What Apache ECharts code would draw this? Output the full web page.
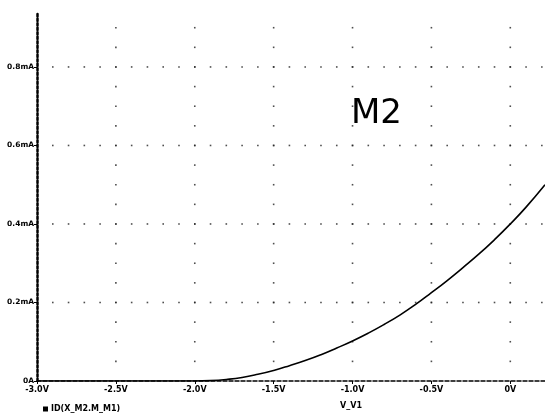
<!DOCTYPE html>
<html><head><meta charset="utf-8">
<script src="https://cdn.jsdelivr.net/npm/echarts@6/dist/echarts.min.js"></script>
<style>html,body{margin:0;padding:0;background:#fff}#c{width:545px;height:416px}</style>
</head><body><div id="c"></div>
<script>
// Data (V_V1 in volts, drain current in mA)
const voltages = [-3.0,-2.8,-2.6,-2.4,-2.2,-2.0,-1.9,-1.8,-1.7,-1.6,-1.5,-1.4,-1.3,-1.2,-1.1,-1.0,-0.9,-0.8,-0.7,-0.6,-0.5,-0.4,-0.3,-0.2,-0.1,0.0,0.1,0.22];
const currents = [0,0,0,0,0,0,0.001,0.004,0.009,0.017,0.027,0.039,0.052,0.067,0.084,0.102,0.122,0.144,0.168,0.195,0.225,0.256,0.289,0.323,0.360,0.400,0.443,0.500];
const xTicks = [-3.0,-2.5,-2.0,-1.5,-1.0,-0.5,0];
const xTickLabels = ['-3.0V','-2.5V','-2.0V','-1.5V','-1.0V','-0.5V','0V'];
const yTicks = [0,0.2,0.4,0.6,0.8];
const yTickLabels = ['0A','0.2mA','0.4mA','0.6mA','0.8mA'];
const seriesName = 'ID(X_M2.M_M1)';
const xName = 'V_V1';
const titleText = 'M2';

const xMin = -3.0, xMax = 0.22, yMin = 0, yMax = 0.94;

// dotted grid: dots along major lines at minor steps
const gridDots = [];
for (const xv of xTicks.slice(1)) {
  for (let k = 1; k * 0.05 <= yMax; k++) gridDots.push([xv, +(k * 0.05).toFixed(3)]);
}
for (const yv of yTicks.slice(1)) {
  for (let k = 1; -3.0 + k * 0.1 <= xMax; k++) gridDots.push([+(-3.0 + k * 0.1).toFixed(2), yv]);
}

const lbl = v => {
  const i = xTicks.findIndex(t => Math.abs(t - v) < 1e-6);
  return i >= 0 ? xTickLabels[i] : '';
};
const ylbl = v => {
  const i = yTicks.findIndex(t => Math.abs(t - v) < 1e-6);
  return i >= 0 ? yTickLabels[i] : '';
};

const font = '"DejaVu Sans", sans-serif';
const chart = echarts.init(document.getElementById('c'));
chart.setOption({
  animation: false,
  backgroundColor: '#fff',
  title: {
    text: titleText, left: 346, top: 92,
    textStyle: { fontFamily: '"DejaVu Sans", sans-serif', fontSize: 34, fontWeight: 'normal', color: '#000' }
  },
  grid: { left: 37, right: 0, top: 12, bottom: 35 },
  legend: {
    data: [{ name: seriesName, icon: 'rect' }],
    left: 38, top: 400, itemWidth: 5, itemHeight: 5, itemGap: 4,
    textStyle: { fontFamily: font, fontSize: 8, fontWeight: 'bold', color: '#000', padding: [0,0,0,-2] }
  },
  graphic: [{
    type: 'text', left: 340, top: 402,
    style: { text: xName, font: 'bold 8px ' + font, fill: '#000' }
  }],
  xAxis: {
    type: 'value', min: xMin, max: xMax, interval: 0.5,
    axisLine: { show: true, onZero: false, lineStyle: { color: '#000', width: 1.5, type: [4, 2] } },
    axisTick: { show: true, length: 3, inside: false, lineStyle: { color: '#000' } },
    axisLabel: { formatter: lbl, margin: 5, fontFamily: font, fontSize: 8, fontWeight: 'bold', color: '#000', showMaxLabel: false },
    splitLine: { show: false }
  },
  yAxis: {
    type: 'value', min: yMin, max: yMax, interval: 0.2,
    axisLine: { show: true, onZero: false, lineStyle: { color: '#000', width: 2.5, type: [2.5, 2] } },
    axisTick: { show: true, length: 3, lineStyle: { color: '#000' } },
    axisLabel: { formatter: ylbl, margin: 3, fontFamily: font, fontSize: 7.5, fontWeight: 'bold', color: '#000', showMaxLabel: false },
    splitLine: { show: false }
  },
  series: [
    {
      type: 'scatter', data: gridDots, symbol: 'rect', symbolSize: 1.6,
      itemStyle: { color: '#222' }, silent: true, z: 1
    },
    {
      name: seriesName, type: 'line', smooth: true, showSymbol: false,
      data: voltages.map((v, i) => [v, currents[i]]),
      lineStyle: { color: '#000', width: 1.6 }, itemStyle: { color: '#000' }, z: 3
    }
  ]
});
</script></body></html>
